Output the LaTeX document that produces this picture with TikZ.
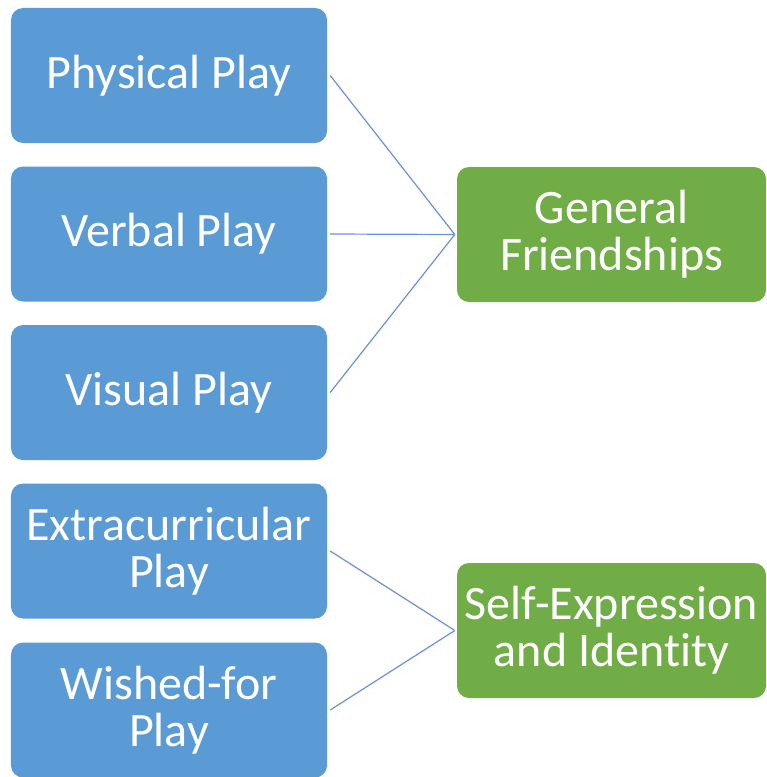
\documentclass[tikz,border=0pt]{standalone}
\usepackage{fontspec}
\setmainfont[Ligatures={NoCommon,NoContextual}]{Carlito}
\definecolor{playblue}{HTML}{5B9BD5}
\definecolor{goalgreen}{HTML}{70AD47}
\definecolor{linkblue}{HTML}{6A90DA}
\begin{document}
\begin{tikzpicture}[x=1bp,y=-1bp,
  box/.style={rectangle, rounded corners=12bp, inner sep=0pt,
    minimum height=135bp, align=center, text=white,
    font=\fontsize{48bp}{47bp}\selectfont},
  playbox/.style={box, fill=playblue, minimum width=316bp},
  goalbox/.style={box, fill=goalgreen, minimum width=309bp},
  link/.style={draw=linkblue, line width=1.2bp}]
\useasboundingbox (0,0) rectangle (767,777);

% play categories
\node[playbox] (physical) at (169,75.5) {Physical Play};
\node[playbox] (verbal)   at (169,234)  {Verbal Play};
\node[playbox] (visual)   at (169,392.5){Visual Play};
\node[playbox] (extra)    at (169,551)  {Extracurricular\\Play};
\node[playbox] (wished)   at (169,710)  {Wished-for\\Play};

% outcomes
\node[goalbox] (friend) at (611.5,234.5) {General\\Friendships};
\node[goalbox] (self)   at (611.5,630.5) {Self-Expression\\and Identity};

% join points just left of each outcome box
\coordinate (fj) at ([xshift=-2bp]friend.west);
\coordinate (sj) at ([xshift=-2bp]self.west);

% connectors
\foreach \n in {physical,verbal,visual}
  \draw[link] ([xshift=3bp]\n.east) -- (fj);
\foreach \n in {extra,wished}
  \draw[link] ([xshift=3bp]\n.east) -- (sj);
\end{tikzpicture}
\end{document}
